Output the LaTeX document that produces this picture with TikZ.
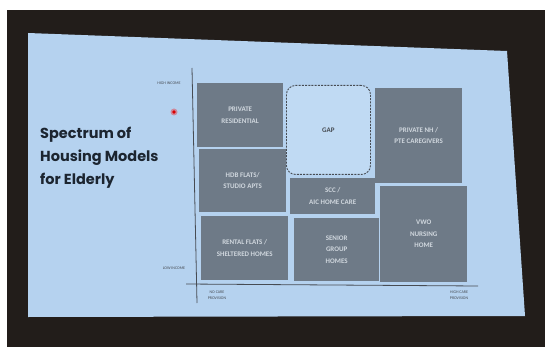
\documentclass[tikz,border=0pt]{standalone}
\usepackage{fontspec}
\setmainfont{Carlito}
\newfontfamily\titlefont{Poppins}
\usetikzlibrary{positioning}

\definecolor{slidebg}{HTML}{B5D2EF}
\definecolor{cellgray}{HTML}{6E7A87}
\definecolor{celltext}{HTML}{D0D7DE}
\definecolor{roomdark}{HTML}{221D1A}
\definecolor{axisgray}{HTML}{474C53}
\definecolor{titleblue}{HTML}{1C2530}
\definecolor{gapfill}{HTML}{C0DAF3}

\tikzset{
  cell/.style={fill=cellgray, text=celltext, align=center, inner sep=0pt,
    anchor=north west, font=\bfseries\fontsize{7}{11.5}\selectfont},
  gapcell/.style={cell, fill=gapfill, text=axisgray, draw=axisgray,
    line width=0.9pt, dash pattern=on 2pt off 1.2pt, rounded corners=9pt},
  axislabel/.style={text=axisgray, align=center, inner sep=0pt,
    font=\fontsize{4}{6.5}\selectfont},
}

\begin{document}
\begin{tikzpicture}[x=1pt, y=-1pt]
\useasboundingbox (0,0) rectangle (545,347);
% room and screen
\fill[white] (0,0) rectangle (545,347);
\fill[roomdark] (7,10) rectangle (545,347);
\fill[slidebg] (28,33) -- (507,51) -- (525,316) -- (28,317) -- cycle;

% title
\node[anchor=north west, align=left, inner sep=0pt, text=titleblue,
  font=\titlefont\bfseries\fontsize{14.5}{23}\selectfont] (title) at (40,127)
  {Spectrum of\\Housing Models\\for Elderly};

% laser pointer
\fill[red, opacity=0.35] (174,112) circle (3.5);
\fill[red!85!black] (174,112) circle (1.8);

% axes
\coordinate (ytop) at (192,68);
\coordinate (ybot) at (197,303);
\coordinate (xbeg) at (186,284);
\coordinate (xend) at (478,286);
\draw[axisgray, line width=0.8pt] (ytop) -- (ybot);
\draw[axisgray, line width=0.8pt] (xbeg) -- (xend);

\node[axislabel] (hiinc) at (169,83) {HIGH INCOME};
\node[axislabel] (loinc) at (174,268) {LOW INCOME};
\node[axislabel] (nocare) at (217,295) {NO CARE\\PROVISION};
\node[axislabel] (hicare) at (459,295) {HIGH CARE\\PROVISION};

% cells
\node[cell, minimum width=86, minimum height=64] (pres) at (197,83) {PRIVATE\\RESIDENTIAL};
\node[cell, minimum width=87, minimum height=63] (hdb) at (199,149) {HDB FLATS/\\STUDIO APTS};
\node[cell, minimum width=87, minimum height=64] (rental) at (201,216) {RENTAL FLATS /\\SHELTERED HOMES};
\node[gapcell, minimum width=84, minimum height=89] (gap) at (286,85) {GAP};
\node[cell, minimum width=85, minimum height=36] (scc) at (290,178) {SCC /\\AIC HOME CARE};
\node[cell, minimum width=85, minimum height=63] (sgh) at (294,218) {SENIOR\\GROUP\\HOMES};
\node[cell, minimum width=87, minimum height=95] (pnh) at (375,88) {PRIVATE NH /\\PTE CAREGIVERS};
\node[cell, minimum width=87, minimum height=96] (vwo) at (380,186) {VWO\\NURSING\\HOME};
\end{tikzpicture}
\end{document}
